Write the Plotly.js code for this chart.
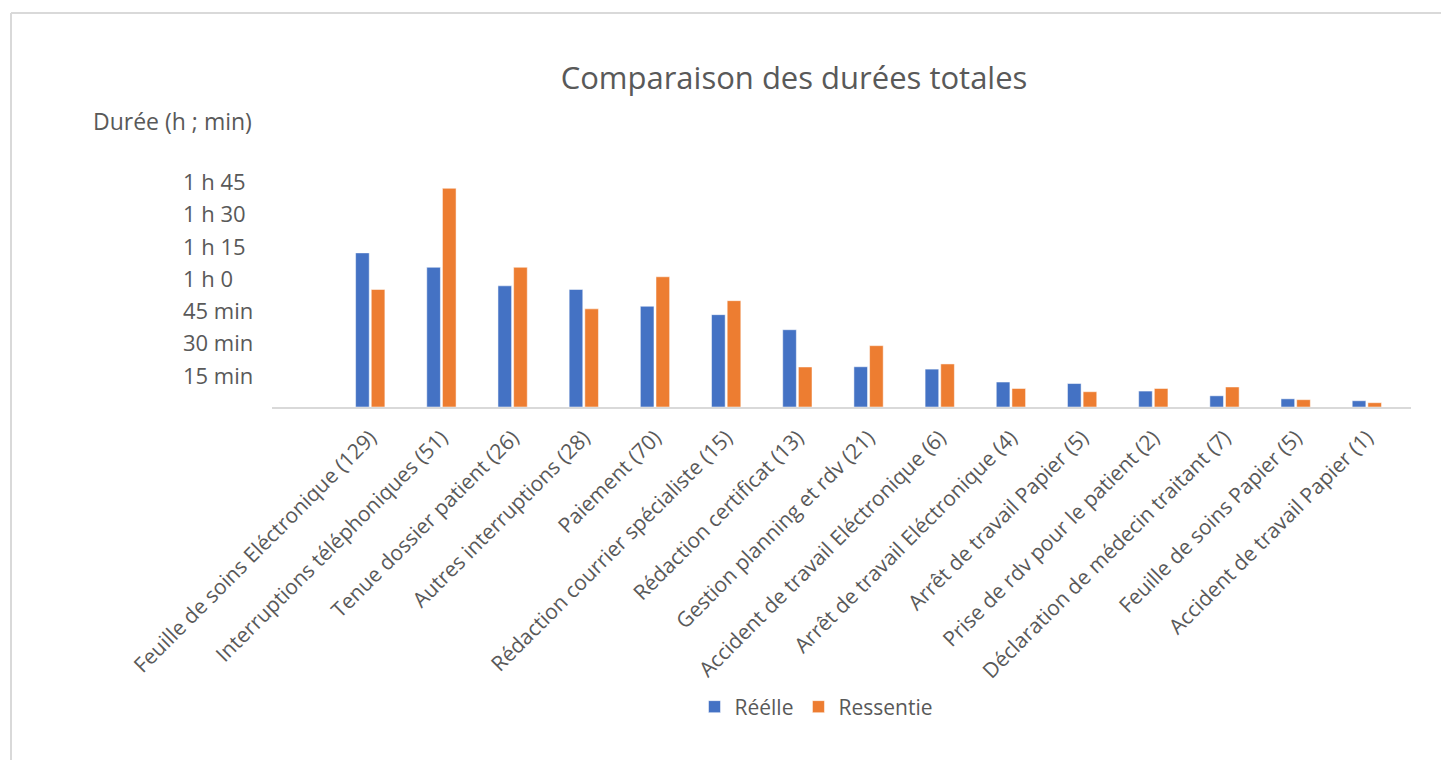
<!DOCTYPE html>
<html>
<head>
<meta charset="utf-8">
<script src="https://cdn.plot.ly/plotly-3.0.1.min.js"></script>
<style>
html,body{margin:0;padding:0;background:#fff;}
#chart{width:1441px;height:760px;}
</style>
</head>
<body>
<div id="chart"></div>
<script>
// Data (durations in minutes)
const categories = [
  "Feuille de soins Eléctronique (129)",
  "Interruptions téléphoniques (51)",
  "Tenue dossier patient (26)",
  "Autres interruptions (28)",
  "Paiement (70)",
  "Rédaction courrier spécialiste (15)",
  "Rédaction certificat (13)",
  "Gestion planning et rdv (21)",
  "Accident de travail Eléctronique (6)",
  "Arrêt de travail Eléctronique (4)",
  "Arrêt de travail Papier (5)",
  "Prise de rdv pour le patient (2)",
  "Déclaration de médecin traitant (7)",
  "Feuille de soins Papier (5)",
  "Accident de travail Papier (1)"
];
const reelle =    [71.6, 64.9, 56.3, 54.6, 46.8, 42.9, 35.9, 18.7, 17.6, 11.6, 10.9, 7.4, 5.2, 3.8, 2.9];
const ressentie = [54.6, 101.6, 64.9, 45.6, 60.5, 49.4, 18.6, 28.5, 20.0, 8.6, 7.1, 8.6, 9.3, 3.4, 2.0];
const yTickVals = [15, 30, 45, 60, 75, 90, 105];
const yTickText = ["15 min", "30 min", "45 min", "1 h 0", "1 h 15", "1 h 30", "1 h 45"];
const seriesNames = ["Réélle", "Ressentie"];

const W = 1441, H = 760;
const mL = 272, mR = 30, mT = 181, mB = 353;
const pw = W - mL - mR, ph = H - mT - mB;
const px2x = p => (p - mL) / pw;
const px2y = p => (H - mB - p) / ph;

const font = "Open Sans, sans-serif";
const grey = "#595959";

const traces = [
  {type: "bar", name: seriesNames[0], x: categories, y: reelle,
   marker: {color: "#4472C4", line: {color: "#ffffff", width: 0.5}}},
  {type: "bar", name: seriesNames[1], x: categories, y: ressentie,
   marker: {color: "#ED7D31", line: {color: "#ffffff", width: 0.5}}}
];

const annotations = yTickVals.map((v, i) => ({
  xref: "paper", yref: "y", x: px2x(181), y: v, xanchor: "left", yanchor: "middle",
  text: yTickText[i], showarrow: false, font: {family: font, size: 22, color: grey}
}));
annotations.push({
  xref: "paper", yref: "paper", x: px2x(91), y: px2y(121), xanchor: "left", yanchor: "middle",
  text: "Durée (h ; min)", showarrow: false, font: {family: font, size: 23, color: grey}
});

const layout = {
  width: W, height: H,
  margin: {l: mL, r: mR, t: mT, b: mB},
  paper_bgcolor: "#ffffff", plot_bgcolor: "#ffffff",
  title: {text: "Comparaison des durées totales", x: 794 / W, xanchor: "center",
          y: 1 - 78 / H, yanchor: "middle", font: {family: font, size: 31, color: grey}},
  barmode: "group", bargap: 0.56, bargroupgap: 0.13,
  xaxis: {type: "category", range: [-1.38, 14.62], tickangle: -45, showgrid: false,
          showline: true, linecolor: "#d9d9d9", linewidth: 2, ticks: "", ticklabelstandoff: 8,
          tickfont: {family: font, size: 21, color: grey}, automargin: false, fixedrange: true},
  yaxis: {range: [0, 105], showgrid: false, zeroline: false, showline: false,
          showticklabels: false, ticks: "", fixedrange: true},
  legend: {orientation: "h", x: px2x(816), xanchor: "center", y: px2y(707), yanchor: "middle",
           font: {family: font, size: 21, color: grey}, itemwidth: 30, traceorder: "normal"},
  showlegend: true,
  annotations: annotations,
  shapes: [
    {type: "line", xref: "paper", yref: "paper", x0: px2x(11), x1: px2x(1460), y0: px2y(13), y1: px2y(13),
     line: {color: "#d9d9d9", width: 2}},
    {type: "line", xref: "paper", yref: "paper", x0: px2x(11), x1: px2x(11), y0: px2y(13), y1: px2y(780),
     line: {color: "#d9d9d9", width: 2}}
  ]
};

Plotly.newPlot("chart", traces, layout, {displayModeBar: false, staticPlot: true});
</script>
</body>
</html>
